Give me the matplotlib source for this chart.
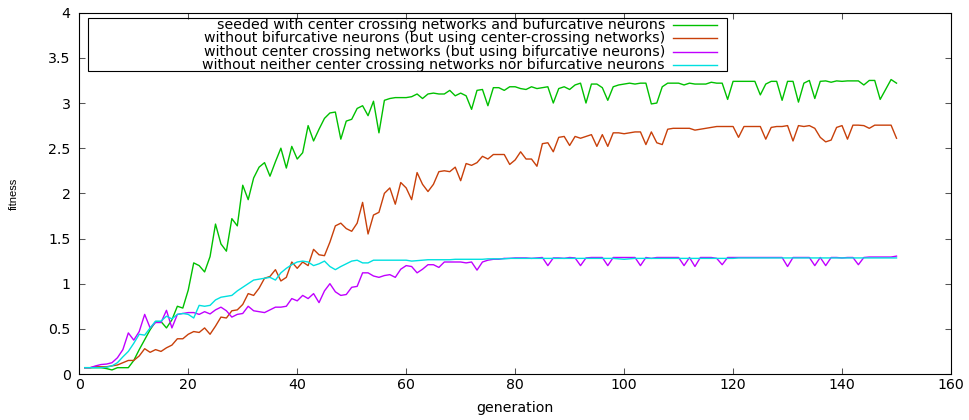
import matplotlib
matplotlib.use("Agg")
import matplotlib.pyplot as plt
from matplotlib.lines import Line2D
from matplotlib.patches import Rectangle

# fitness per generation (gen 1..150)
generations = list(range(1, 151))

seeded = [
    0.07, 0.07, 0.07, 0.07, 0.06, 0.045, 0.07, 0.07, 0.07, 0.15,
    0.27, 0.38, 0.49, 0.58, 0.58, 0.51, 0.60, 0.75, 0.73, 0.93,
    1.23, 1.20, 1.13, 1.30, 1.66, 1.44, 1.36, 1.72, 1.64, 2.09,
    1.93, 2.17, 2.29, 2.34, 2.19, 2.35, 2.50, 2.28, 2.52, 2.38,
    2.45, 2.75, 2.58, 2.71, 2.83, 2.89, 2.90, 2.60, 2.80, 2.82,
    2.94, 2.97, 2.86, 3.02, 2.67, 3.03, 3.05, 3.06, 3.06, 3.06,
    3.07, 3.10, 3.05, 3.10, 3.11, 3.10, 3.10, 3.14, 3.08, 3.11,
    3.08, 2.93, 3.14, 3.15, 2.97, 3.17, 3.17, 3.14, 3.18, 3.18,
    3.16, 3.15, 3.18, 3.16, 3.17, 3.18, 3.00, 3.16, 3.18, 3.15,
    3.20, 3.22, 3.00, 3.21, 3.21, 3.17, 3.03, 3.18, 3.20, 3.21,
    3.22, 3.21, 3.22, 3.22, 2.99, 3.00, 3.18, 3.22, 3.22, 3.22,
    3.20, 3.22, 3.21, 3.21, 3.21, 3.23, 3.22, 3.22, 3.04, 3.24,
    3.24, 3.24, 3.24, 3.24, 3.09, 3.21, 3.24, 3.24, 3.03, 3.24,
    3.24, 3.01, 3.22, 3.25, 3.05, 3.24, 3.245, 3.23, 3.245, 3.24,
    3.245, 3.245, 3.245, 3.20, 3.25, 3.25, 3.04, 3.15, 3.26, 3.22,
]

no_bifurcative = [
    0.07, 0.07, 0.08, 0.08, 0.08, 0.09, 0.10, 0.125, 0.15, 0.15,
    0.20, 0.28, 0.24, 0.27, 0.25, 0.29, 0.32, 0.39, 0.39, 0.44,
    0.47, 0.46, 0.51, 0.44, 0.53, 0.63, 0.62, 0.70, 0.71, 0.77,
    0.89, 0.87, 0.95, 1.06, 1.08, 1.155, 1.03, 1.07, 1.24, 1.17,
    1.24, 1.20, 1.38, 1.32, 1.31, 1.46, 1.64, 1.67, 1.61, 1.58,
    1.67, 1.90, 1.55, 1.76, 1.79, 2.00, 2.06, 1.88, 2.12, 2.06,
    1.93, 2.23, 2.10, 2.02, 2.10, 2.24, 2.25, 2.24, 2.29, 2.14,
    2.33, 2.31, 2.34, 2.41, 2.38, 2.43, 2.43, 2.43, 2.32, 2.37,
    2.46, 2.38, 2.38, 2.30, 2.55, 2.56, 2.46, 2.62, 2.63, 2.53,
    2.63, 2.61, 2.63, 2.65, 2.52, 2.65, 2.52, 2.67, 2.67, 2.66,
    2.67, 2.68, 2.68, 2.54, 2.68, 2.56, 2.54, 2.71, 2.72, 2.72,
    2.72, 2.72, 2.70, 2.71, 2.72, 2.73, 2.74, 2.74, 2.74, 2.74,
    2.62, 2.74, 2.74, 2.74, 2.74, 2.60, 2.73, 2.74, 2.74, 2.75,
    2.58, 2.75, 2.74, 2.75, 2.72, 2.62, 2.57, 2.59, 2.73, 2.75,
    2.60, 2.755, 2.755, 2.75, 2.72, 2.755, 2.755, 2.755, 2.755, 2.61,
]

no_center_crossing = [
    0.07, 0.07, 0.09, 0.105, 0.11, 0.125, 0.18, 0.27, 0.455, 0.375,
    0.47, 0.66, 0.51, 0.57, 0.57, 0.705, 0.51, 0.66, 0.67, 0.68,
    0.68, 0.66, 0.69, 0.665, 0.71, 0.74, 0.70, 0.63, 0.66, 0.67,
    0.75, 0.70, 0.69, 0.68, 0.71, 0.74, 0.74, 0.75, 0.835, 0.81,
    0.87, 0.835, 0.89, 0.79, 0.92, 1.00, 0.91, 0.87, 0.88, 0.96,
    0.97, 1.12, 1.12, 1.085, 1.07, 1.09, 1.10, 1.07, 1.16, 1.20,
    1.19, 1.12, 1.16, 1.21, 1.21, 1.18, 1.24, 1.24, 1.24, 1.24,
    1.23, 1.24, 1.15, 1.24, 1.26, 1.27, 1.27, 1.28, 1.28, 1.285,
    1.285, 1.285, 1.28, 1.285, 1.29, 1.20, 1.285, 1.285, 1.28, 1.29,
    1.285, 1.20, 1.285, 1.29, 1.29, 1.29, 1.20, 1.29, 1.29, 1.29,
    1.29, 1.29, 1.20, 1.29, 1.28, 1.29, 1.29, 1.29, 1.29, 1.29,
    1.20, 1.29, 1.19, 1.29, 1.29, 1.29, 1.28, 1.21, 1.29, 1.29,
    1.29, 1.29, 1.29, 1.29, 1.29, 1.29, 1.29, 1.29, 1.29, 1.19,
    1.29, 1.29, 1.29, 1.29, 1.20, 1.29, 1.20, 1.29, 1.29, 1.285,
    1.29, 1.29, 1.21, 1.29, 1.295, 1.295, 1.295, 1.295, 1.295, 1.305,
]

neither = [
    0.07, 0.07, 0.07, 0.07, 0.075, 0.09, 0.125, 0.19, 0.25, 0.34,
    0.44, 0.43, 0.51, 0.585, 0.585, 0.64, 0.61, 0.66, 0.67, 0.66,
    0.62, 0.76, 0.75, 0.76, 0.82, 0.85, 0.86, 0.87, 0.92, 0.96,
    1.00, 1.04, 1.05, 1.06, 1.07, 1.04, 1.12, 1.17, 1.21, 1.24,
    1.25, 1.24, 1.20, 1.22, 1.25, 1.19, 1.155, 1.19, 1.22, 1.25,
    1.26, 1.23, 1.23, 1.26, 1.26, 1.26, 1.26, 1.26, 1.26, 1.26,
    1.25, 1.255, 1.26, 1.265, 1.265, 1.265, 1.265, 1.265, 1.27, 1.27,
    1.27, 1.27, 1.27, 1.27, 1.275, 1.275, 1.275, 1.275, 1.28, 1.28,
    1.28, 1.28, 1.28, 1.28, 1.28, 1.28, 1.28, 1.28, 1.28, 1.28,
    1.28, 1.28, 1.28, 1.28, 1.28, 1.28, 1.28, 1.28, 1.275, 1.27,
    1.275, 1.28, 1.28, 1.28, 1.28, 1.28, 1.28, 1.28, 1.28, 1.28,
    1.28, 1.28, 1.28, 1.28, 1.28, 1.28, 1.28, 1.28, 1.28, 1.28,
    1.285, 1.285, 1.285, 1.285, 1.285, 1.285, 1.285, 1.285, 1.285, 1.285,
    1.285, 1.285, 1.285, 1.285, 1.285, 1.285, 1.285, 1.285, 1.285, 1.285,
    1.285, 1.285, 1.285, 1.285, 1.285, 1.285, 1.285, 1.285, 1.285, 1.285,
]

labels = [
    "seeded with center crossing networks and bufurcative neurons",
    "without bifurcative neurons (but using center-crossing networks)",
    "without center crossing networks (but using bifurcative neurons)",
    "without neither center crossing networks nor bifurcative neurons",
]
colors = ["#00c000", "#c8400a", "#c000ff", "#00e0e0"]
series = [seeded, no_bifurcative, no_center_crossing, neither]

FS = 10.2
W, H = 969, 420
fig = plt.figure(figsize=(W / 100, H / 100), dpi=100)
ax = fig.add_axes([79.3 / W, 1 - 374 / H, (951 - 79.3) / W, (374 - 12.7) / H])

for vals, c, lab in zip(series, colors, labels):
    ax.plot(generations, vals, color=c, lw=1.0, label=lab)

ax.set_xlim(0, 160)
ax.set_ylim(0, 4)
ax.set_xticks(range(0, 161, 20))
ax.set_yticks([0, 0.5, 1, 1.5, 2, 2.5, 3, 3.5, 4])
ax.set_yticklabels(["0", "0.5", "1", "1.5", "2", "2.5", "3", "3.5", "4"])
ax.tick_params(direction="in", top=True, right=True, length=4.3, width=0.75,
               labelsize=FS, color="#555555")
ax.tick_params(axis="x", pad=3.2)
ax.tick_params(axis="y", pad=6.3)
for s in ax.spines.values():
    s.set_linewidth(0.8)
    s.set_color("black")

fig.text(515 / W, 1 - 408 / H, "generation", ha="center", va="center", fontsize=FS)
fig.text(14 / W, 1 - 194 / H, "fitness", ha="center", va="center", rotation=90,
         fontsize=8, family="Liberation Sans")

# gnuplot style key: right aligned text, sample line on the right
fig.patches.append(Rectangle((87.7 / W, 1 - 71 / H), (726.7 - 87.7) / W, (71 - 18.3) / H,
                             transform=fig.transFigure, fill=False,
                             edgecolor="black", lw=0.8))
row_y = [25, 38.3, 51.7, 65]
for lab, c, y in zip(labels, colors, row_y):
    fig.text(665 / W, 1 - y / H, lab, ha="right", va="center", fontsize=FS)
    fig.lines.append(Line2D([673 / W, 717 / W], [1 - y / H, 1 - y / H],
                            transform=fig.transFigure, color=c, lw=1.0))

fig.savefig("out.png", dpi=100)
plt.close(fig)
